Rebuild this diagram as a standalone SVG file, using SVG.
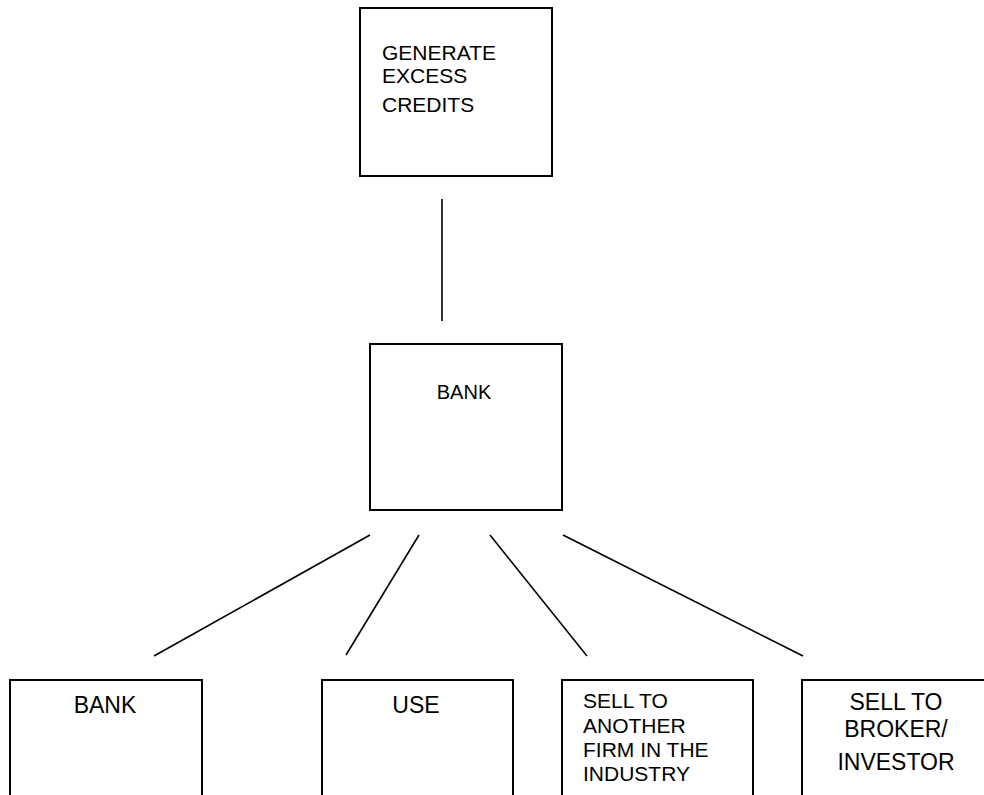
<svg xmlns="http://www.w3.org/2000/svg" width="984" height="795" viewBox="0 0 984 795">
<style>
.box{fill:#fff;stroke:#000;stroke-width:2}
.lbl{font-family:"Liberation Sans",Arial,sans-serif;fill:#000}
.c{stroke:#000;stroke-width:1.6;fill:none}
</style>
<rect width="984" height="795" fill="#fff"/>
<g id="connectors">
<line class="c" x1="442" y1="199" x2="442" y2="321"/>
<line class="c" x1="370" y1="535" x2="154" y2="656"/>
<line class="c" x1="419" y1="535" x2="346" y2="655"/>
<line class="c" x1="490" y1="535" x2="587" y2="656"/>
<line class="c" x1="563" y1="535" x2="803" y2="656"/>
</g>
<g id="generate">
<rect class="box" x="360" y="8" width="192" height="168"/>
<text class="lbl" x="382" y="60" font-size="21">GENERATE</text>
<text class="lbl" x="382" y="83" font-size="21">EXCESS</text>
<text class="lbl" x="382" y="112" font-size="21">CREDITS</text>
</g>
<g id="bank-mid">
<rect class="box" x="370" y="344" width="192" height="166"/>
<text class="lbl" x="464" y="399" font-size="20" text-anchor="middle">BANK</text>
</g>
<g id="bank">
<rect class="box" x="10" y="680" width="192" height="130"/>
<text class="lbl" x="105" y="713" font-size="23" text-anchor="middle">BANK</text>
</g>
<g id="use">
<rect class="box" x="322" y="680" width="191" height="130"/>
<text class="lbl" x="416" y="713" font-size="23" text-anchor="middle">USE</text>
</g>
<g id="sell-firm">
<rect class="box" x="562" y="680" width="191" height="130"/>
<text class="lbl" x="583" y="708" font-size="21">SELL TO</text>
<text class="lbl" x="583" y="733" font-size="21">ANOTHER</text>
<text class="lbl" x="583" y="757" font-size="21">FIRM IN THE</text>
<text class="lbl" x="583" y="781" font-size="21">INDUSTRY</text>
</g>
<g id="sell-broker">
<rect class="box" x="802" y="680" width="192" height="130"/>
<text class="lbl" x="896" y="710" font-size="23" text-anchor="middle">SELL TO</text>
<text class="lbl" x="896" y="737" font-size="23" text-anchor="middle">BROKER/</text>
<text class="lbl" x="896" y="770" font-size="23" text-anchor="middle">INVESTOR</text>
</g>
</svg>
